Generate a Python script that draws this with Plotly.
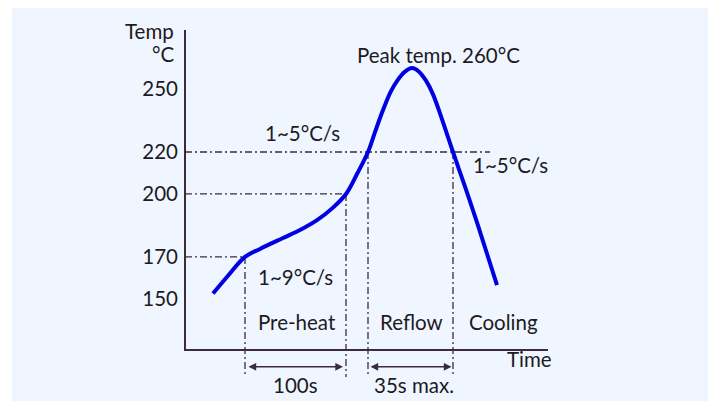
import plotly.graph_objects as go

# ---------------- data (schematic reflow profile) ----------------
# time in schematic units, temperature in °C
curve_time = [28, 43, 60, 75, 98, 115, 132, 148, 161, 172, 183, 190, 198, 206, 213, 220, 227,
              234, 241, 248, 256, 268, 280, 292, 302, 312]
curve_temp = [152.5, 161, 170, 173.8, 179, 182.8, 187.5, 193.5, 200, 209.5, 220, 229.5, 240, 249, 254.5, 258.3, 260,
              258.3, 254, 247.5, 237, 220, 203.5, 186.5, 171.5, 156.5]

y_ticks = [150, 170, 200, 220, 250]

# key points: (time, temperature) where guide lines meet the curve
key_time = [60, 161, 183, 268]
key_temp = [170, 200, 220, 220]
h220_end = 305            # where the 220 °C guide ends on the right

# phase labels
phase_labels = ["Pre-heat", "Reflow", "Cooling"]
phase_time = [112, 226, 318]

# layout constants (axis geometry of the schematic)
AXIS_BASE = 125.6         # temperature level of the time axis
AXIS_TOP = 278.2
GUIDE_BOTTOM = 112.7
ARROW_LEVEL = 117.6
X_RANGE = [-4, 363]
Y_RANGE = [104.16, 280.08]

TXT = "#1e1a1e"
LINE = "#3a2c3b"
FONT = "Lato"
FS = 20.5
DASH = "7px,3px,2px,3px"

fig = go.Figure()

# guide lines (dash-dot)
h_x, h_y = [], []
for t, T in zip(key_time[:2], key_temp[:2]):
    h_x += [0, t, None]
    h_y += [T, T, None]
h_x += [0, h220_end, None]
h_y += [key_temp[2], key_temp[2], None]
fig.add_trace(go.Scatter(x=h_x, y=h_y, mode="lines",
                         line=dict(color=LINE, width=1.3, dash=DASH), hoverinfo="skip"))
v_x, v_y = [], []
for t, T in zip(key_time, key_temp):
    v_x += [t, t, None]
    v_y += [T, GUIDE_BOTTOM, None]
fig.add_trace(go.Scatter(x=v_x, y=v_y, mode="lines",
                         line=dict(color=LINE, width=1.3, dash=DASH), hoverinfo="skip"))

# axes lines
fig.add_trace(go.Scatter(x=[0, 0, X_RANGE[1]], y=[AXIS_TOP, AXIS_BASE, AXIS_BASE], mode="lines",
                         line=dict(color=LINE, width=2), hoverinfo="skip"))

# profile curve
fig.add_trace(go.Scatter(x=curve_time, y=curve_temp, mode="lines",
                         line=dict(color="#0000e0", width=4, shape="spline", smoothing=1.0),
                         hoverinfo="skip"))

ann = []
def text(x, y, s, xanchor="center", yanchor="middle", xref="x"):
    ann.append(dict(x=x, y=y, xref=xref, yref="y", text=s, showarrow=False,
                    xanchor=xanchor, yanchor=yanchor,
                    font=dict(family=FONT, size=FS, color=TXT)))

text(-0.0136, 277.7, "Temp", xanchor="right", xref="paper")
text(-0.0136, 266.7, "°C", xanchor="right", xref="paper")
text(117, 229.1, "1~5°C/s")
text(253.5, 266.2, "Peak temp. 260°C")
text(325, 213.6, "1~5°C/s")
text(110, 160.4, "1~9°C/s")
for lab, t in zip(phase_labels, phase_time):
    text(t, 138.8, lab)
text(344, 121.2, "Time")
text(110, 108.9, "100s")
text(229, 108.9, "35s max.")

# double arrows
for a, b in [(key_time[0] + 2, key_time[1] - 3), (key_time[2] + 1, key_time[3] - 1.5)]:
    ann.append(dict(x=b, y=ARROW_LEVEL, ax=a, ay=ARROW_LEVEL, xref="x", yref="y",
                    axref="x", ayref="y", text="", showarrow=True,
                    arrowhead=2, arrowside="end+start", arrowsize=1.1, arrowwidth=1.4,
                    arrowcolor=LINE, standoff=0, startstandoff=0))

fig.update_layout(
    width=708, height=393,
    margin=dict(l=173, r=168, t=18, b=6),
    paper_bgcolor="white", plot_bgcolor="rgba(0,0,0,0)",
    showlegend=False,
    annotations=ann,
    shapes=[dict(type="rect", xref="paper", yref="paper", x0=-0.4605, x1=1.4441,
                 y0=-0.0163, y1=1.0542, fillcolor="#eff6ff", line=dict(width=0), layer="below")],
    xaxis=dict(range=X_RANGE, showgrid=False, zeroline=False, showline=False,
               showticklabels=False, ticks=""),
    yaxis=dict(range=Y_RANGE, showgrid=False, zeroline=False, showline=False,
               tickvals=y_ticks, ticktext=[str(v) for v in y_ticks], ticks="",
               ticklabelstandoff=2,
               tickfont=dict(family=FONT, size=FS, color=TXT)),
)

fig.write_html("out.html")
